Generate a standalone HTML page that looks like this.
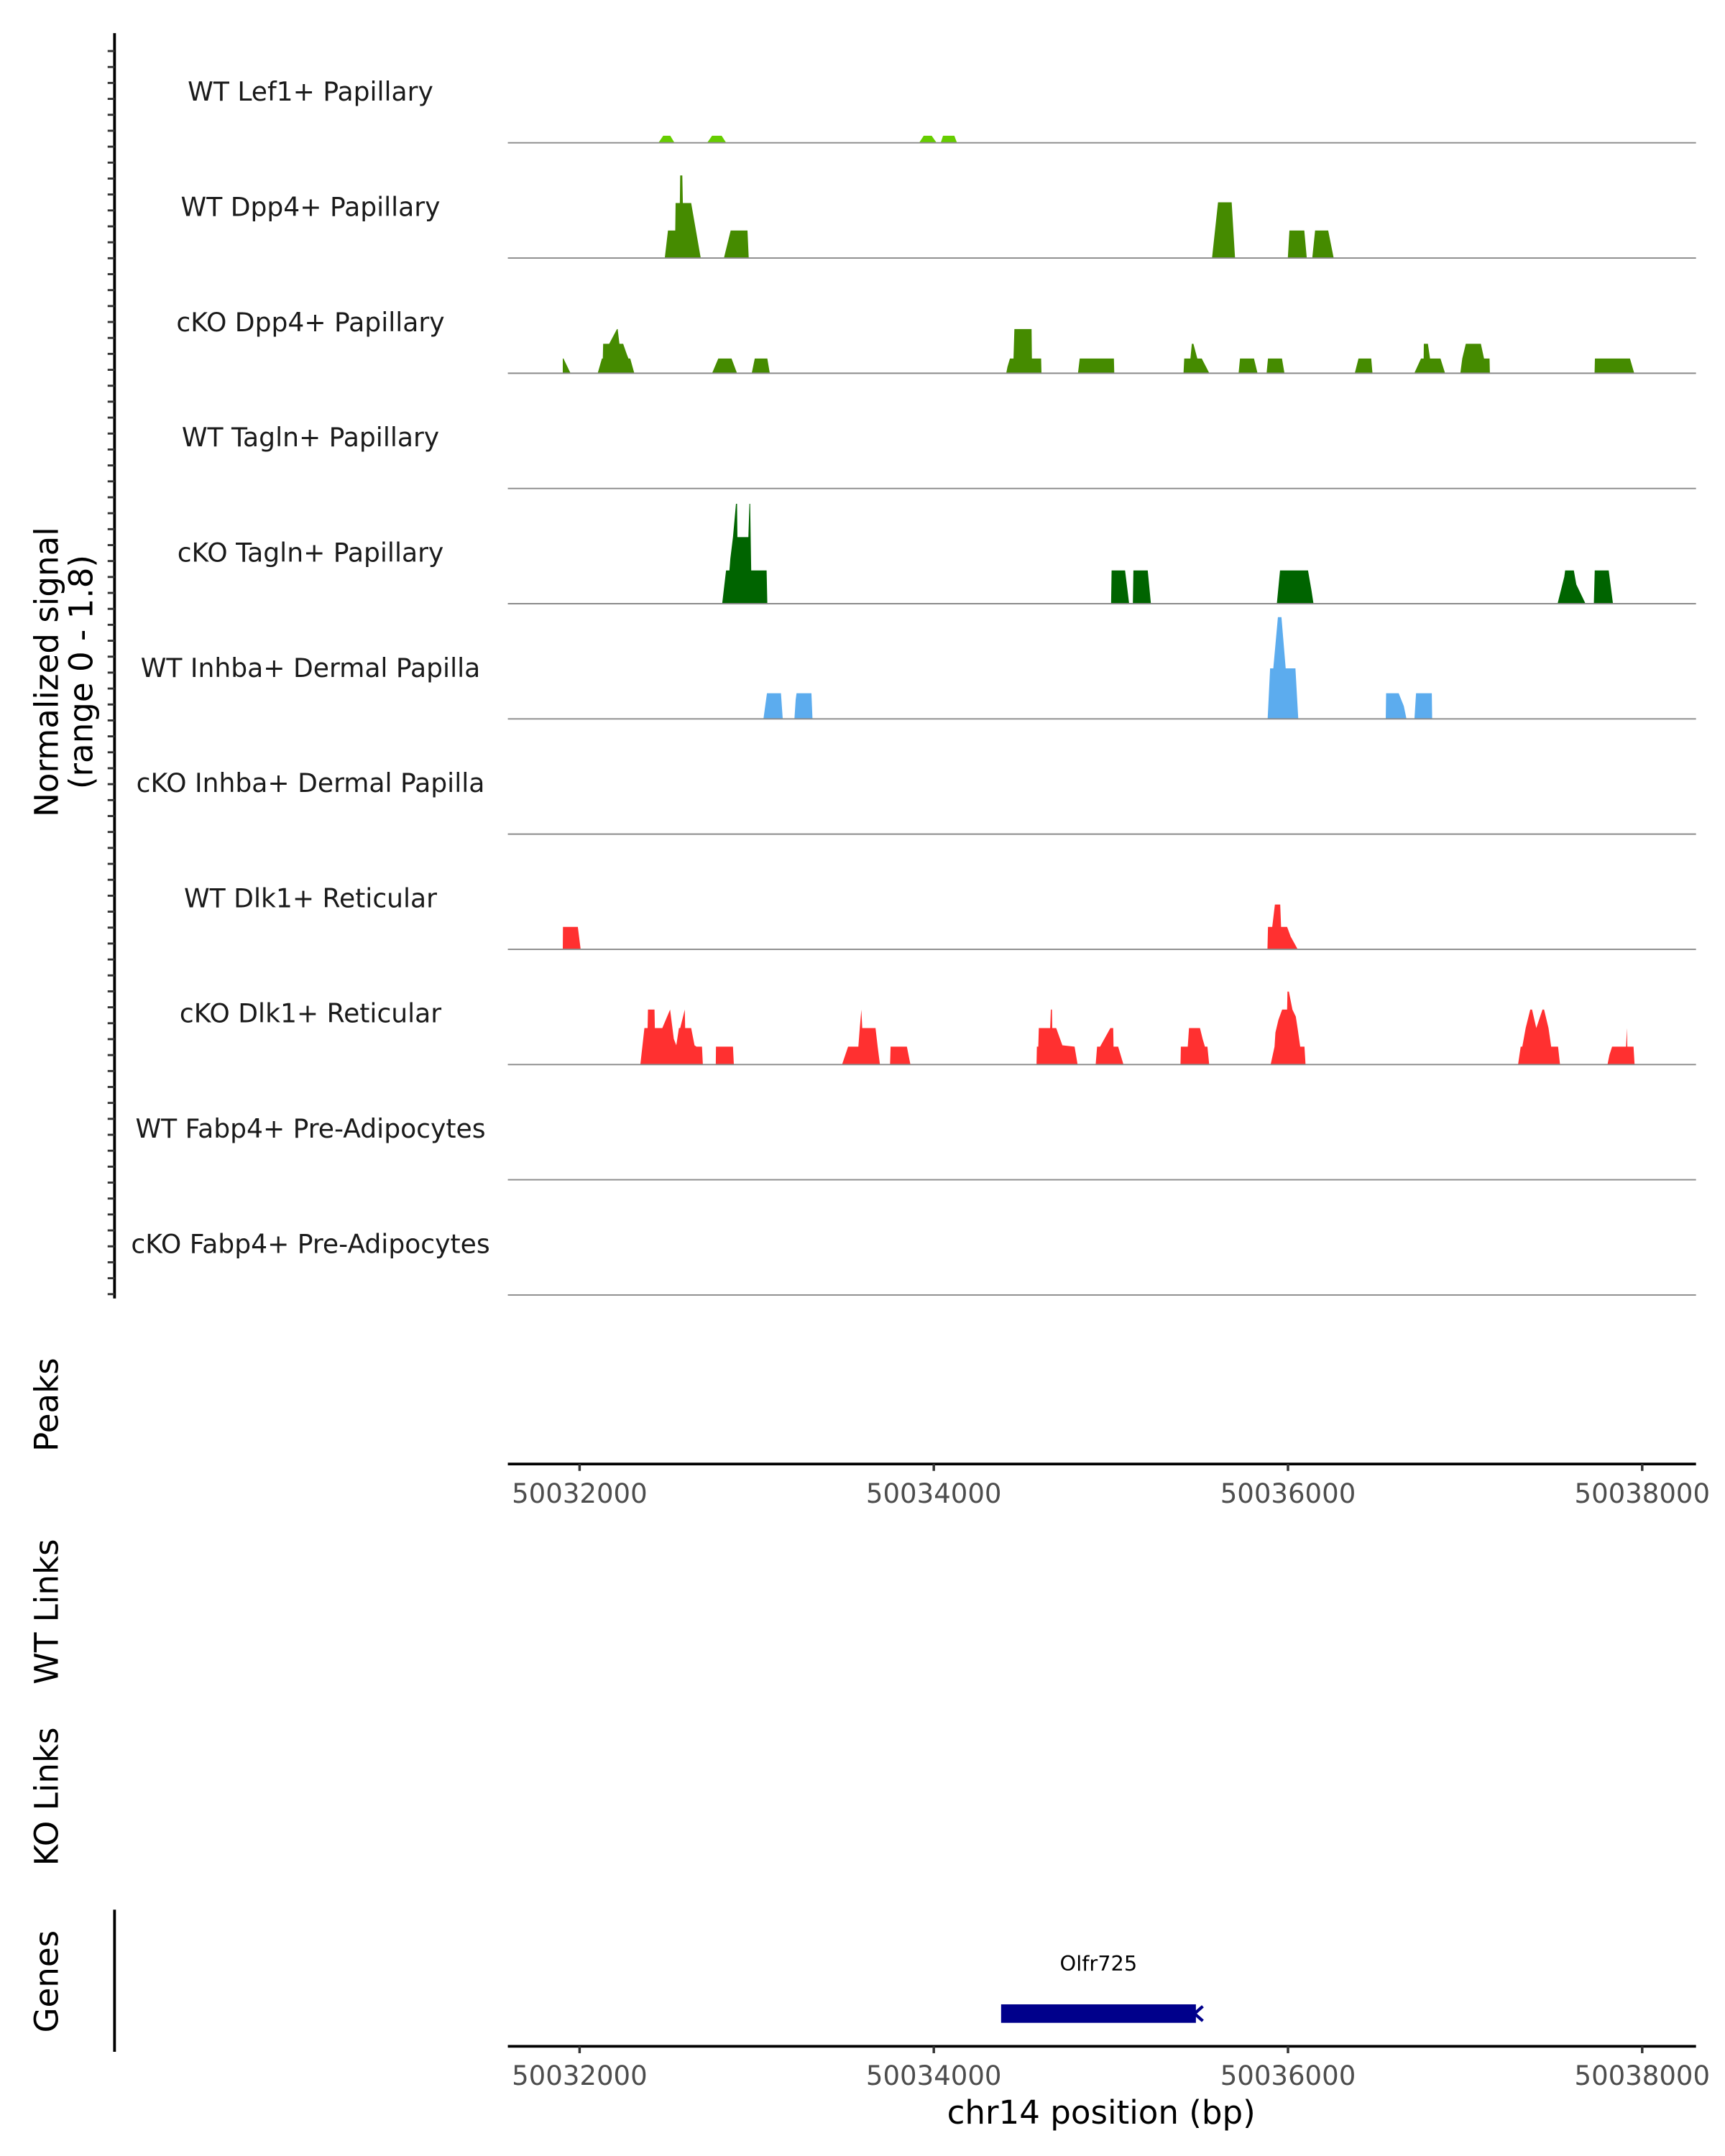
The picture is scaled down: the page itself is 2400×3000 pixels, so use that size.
<!DOCTYPE html>
<html><head><meta charset="utf-8"><title>Coverage plot</title>
<style>html,body{margin:0;padding:0;background:#fff}svg{display:block}text{font-family:"DejaVu Sans","Liberation Sans",sans-serif}</style>
</head><body>
<svg id="chart" xmlns="http://www.w3.org/2000/svg" width="2400" height="3000" viewBox="0 0 1250 1562.5">
<rect x="0" y="0" width="1250" height="1562.5" fill="#fff"/>
<g id="tracks"></g>
<g id="axes"></g>
</svg>
<script>
// region / axis data
const regionStart = 50032000;
const xTicks = [50032000, 50034000, 50036000, 50038000];
const yRangeMax = 1.8;
// track names and colours
const trackNames = ["WT Lef1+ Papillary","WT Dpp4+ Papillary","cKO Dpp4+ Papillary","WT Tagln+ Papillary","cKO Tagln+ Papillary","WT Inhba+ Dermal Papilla","cKO Inhba+ Dermal Papilla","WT Dlk1+ Reticular","cKO Dlk1+ Reticular","WT Fabp4+ Pre-Adipocytes","cKO Fabp4+ Pre-Adipocytes"];
const trackColors = ["#66CD00","#458B00","#458B00","#006400","#006400","#5CACEE","#5CACEE","#FF3030","#FF3030","#FF3030","#FF3030"];
// signal vertices [offset bp from regionStart, normalized value]
const sigWTLef1 = [[445,0],[472,.11],[512,.11],[536,0],[720,0],[748,.11],[802,.11],[828,0],[1917,0],[1943,.11],[1988,.11],[2016,0],[2039,0],[2052,.11],[2116,.11],[2131,0]];
const sigWTDpp4 = [[481,0],[499,.43],[540,.43],[542,.86],[566,.86],[568,1.29],[580,1.29],[583,.86],[630,.86],[657,.43],[684,0],
 [815,0],[853,.43],[948,.43],[955,0],
 [3571,0],[3605,.87],[3682,.87],[3701,0],
 [3999,0],[4008,.43],[4092,.43],[4106,0],
 [4137,0],[4153,.43],[4227,.43],[4258,0]];
const sigKODpp4 = [[-95,0],[-95,.23],[-91,.23],[-51,0],
 [102,0],[126,.23],[131,.23],[133,.46],[167,.46],[211,.69],[215,.69],[225,.46],[246,.46],[266,.3],[276,.23],[286,.23],[309,0],
 [748,0],[783,.23],[858,.23],[889,0],[972,0],[989,.23],[1060,.23],[1074,0],
 [2409,0],[2416,.1],[2430,.23],[2450,.23],[2455,.69],[2552,.69],[2554,.23],[2606,.23],[2608,0],
 [2814,0],[2824,.23],[3017,.23],[3019,0],
 [3410,0],[3414,.23],[3449,.23],[3457,.46],[3466,.46],[3488,.23],[3513,.23],[3556,0],
 [3721,0],[3729,.23],[3808,.23],[3828,0],[3879,0],[3887,.23],[3966,.23],[3980,0],
 [4377,0],[4398,.23],[4470,.23],[4477,0],
 [4713,0],[4751,.23],[4766,.23],[4767,.46],[4790,.46],[4802,.23],[4861,.23],[4887,0],
 [4973,0],[4984,.23],[5004,.46],[5089,.46],[5107,.23],[5138,.23],[5140,0],
 [5731,0],[5733,.23],[5931,.23],[5955,0]];
const sigWTTagln = [];
const sigKOTagln = [[805,0],[827,.52],[846,.52],[851,.7],[866,1.04],[883,1.56],[889,1.56],[891,1.04],[953,1.04],[959,1.56],[963,1.56],[969,.52],[1056,.52],[1060,0],
 [3001,0],[3004,.52],[3080,.52],[3103,0],[3124,0],[3127,.52],[3208,.52],[3226,0],
 [3937,0],[3955,.52],[4113,.52],[4133,.2],[4144,0],
 [5522,0],[5560,.42],[5565,.52],[5614,.52],[5628,.3],[5680,0],[5727,0],[5732,.52],[5811,.52],[5835,0]];
const sigWTInhba = [[1038,0],[1058,.4],[1137,.4],[1147,0],[1213,0],[1220,.3],[1225,.4],[1309,.4],[1315,0],
 [3885,0],[3899,.79],[3917,.79],[3943,1.59],[3963,1.59],[3987,.79],[4042,.79],[4058,0],
 [4552,0],[4554,.4],[4625,.4],[4654,.2],[4669,0],[4714,0],[4723,.4],[4812,.4],[4814,0]];
const sigKOInhba = [];
const sigWTDlk1 = [[-95,0],[-94,.35],[-10,.35],[6,0],[3884,0],[3887,.35],[3911,.35],[3926,.7],[3956,.7],[3961,.35],[3995,.35],[4015,.2],[4055,0]];
const sigKODlk1 = [[343,0],[366,.57],[384,.57],[386,.86],[423,.86],[425,.57],[467,.57],[511,.86],[532,.4],[546,.3],[561,.57],[568,.57],[594,.86],[596,.57],[630,.57],[649,.3],[660,.28],[691,.28],[696,0],
 [769,0],[770,.28],[866,.28],[871,0],
 [1482,0],[1516,.28],[1574,.28],[1582,.57],[1591,.86],[1596,.57],[1671,.57],[1683,.28],[1696,0],
 [1753,0],[1756,.28],[1848,.28],[1868,0],
 [2580,0],[2582,.28],[2590,.28],[2593,.57],[2657,.57],[2661,.86],[2667,.86],[2669,.57],[2691,.57],[2726,.3],[2795,.28],[2812,0],
 [2914,0],[2922,.28],[2939,.28],[2997,.57],[3013,.57],[3015,.28],[3041,.28],[3071,0],
 [3393,0],[3395,.28],[3434,.28],[3441,.57],[3503,.57],[3518,.4],[3531,.28],[3545,.28],[3555,0],
 [3902,0],[3924,.28],[3929,.5],[3946,.7],[3967,.86],[3995,.86],[3997,1.14],[4005,1.14],[4025,.86],[4044,.75],[4054,.57],[4069,.28],[4093,.28],[4099,0],
 [5299,0],[5314,.28],[5323,.28],[5342,.57],[5368,.86],[5378,.86],[5402,.57],[5437,.86],[5446,.86],[5471,.57],[5486,.28],[5525,.28],[5536,0],
 [5804,0],[5815,.15],[5830,.28],[5909,.28],[5914,.57],[5916,.28],[5951,.28],[5957,0]];
const sigWTFabp4 = [];
const sigKOFabp4 = [];
const trackSignals = [sigWTLef1,sigWTDpp4,sigKODpp4,sigWTTagln,sigKOTagln,sigWTInhba,sigKOInhba,sigWTDlk1,sigKODlk1,sigWTFabp4,sigKOFabp4];
// gene annotation
const geneName = "Olfr725";
const geneStart = 50034380;
const geneEnd = 50035480;

const NS = "http://www.w3.org/2000/svg";
const plotLeft = 368, plotRight = 1229;
const trackTop = 20, trackH = 83.5;
function xScale(bp){ return 420 + (bp - regionStart) * (1190 - 420) / 6000; }
function yScale(v, base){ return base - v / yRangeMax * 83.5; }
function mk(tag, attrs, parent){ const e = document.createElementNS(NS, tag); for (const k in attrs) e.setAttribute(k, attrs[k]); parent.appendChild(e); return e; }

const tracksG = document.getElementById('tracks');
const axesG = document.getElementById('axes');

trackNames.forEach((name, i) => {
  const base = trackTop + trackH * (i + 1);
  const g = mk('g', {}, tracksG);
  
  
  const lab = mk('text', {x: 225, y: base - 30.5, 'text-anchor': 'middle', 'font-size': 18.8, fill: '#1a1a1a'}, g);
  lab.textContent = name;
  
  
  const sig = trackSignals[i];
  if (sig.length) {
    let d = 'M' + xScale(regionStart + sig[0][0]).toFixed(2) + ',' + base;
    sig.forEach(p => { d += ' L' + xScale(regionStart + p[0]).toFixed(2) + ',' + yScale(p[1], base).toFixed(2); });
    d += ' L' + xScale(regionStart + sig[sig.length - 1][0]).toFixed(2) + ',' + base + ' Z';
    const area = mk('path', {d: d, fill: trackColors[i], stroke: 'none'}, g);
    
    
  }
  const bl = mk('line', {x1: plotLeft, x2: plotRight, y1: base, y2: base, stroke: '#8a8a8a', 'stroke-width': 1}, g);
  
  
});

// left y axis with ticks
const yAxis = mk('line', {x1: 83, x2: 83, y1: 24, y2: 941, stroke: '#000', 'stroke-width': 2}, axesG);


for (let t = 0; t < 80; t++) {
  const y = 37 + t * 11.55;
  if (y > 940) break;
  const tk = mk('line', {x1: 78, x2: 83, y1: y, y2: y, stroke: '#333', 'stroke-width': 1.5}, axesG);
  
  
}
function vtext(txt, x, y, size, name){
  const t = mk('text', {x: x, y: y, 'text-anchor': 'middle', 'font-size': size, fill: '#000', transform: 'rotate(-90 ' + x + ' ' + y + ')'}, axesG);
  t.textContent = txt;
  
  
  return t;
}
vtext('Normalized signal', 42, 487, 23.5, 'y-axis-title');
vtext('(range 0 - 1.8)', 67, 487, 23.5, 'y-axis-subtitle');
vtext('Peaks', 42, 1018, 23.5, 'peaks-label');
vtext('WT Links', 42, 1168, 23.5, 'wt-links-label');
vtext('KO Links', 42, 1302, 23.5, 'ko-links-label');
vtext('Genes', 42, 1436, 23.5, 'genes-label');

function xAxis(yLine, name){
  const l = mk('line', {x1: plotLeft, x2: plotRight, y1: yLine, y2: yLine, stroke: '#000', 'stroke-width': 2}, axesG);
  
  
  xTicks.forEach(v => {
    const x = xScale(v);
    const tk = mk('line', {x1: x, x2: x, y1: yLine, y2: yLine + 5, stroke: '#333', 'stroke-width': 1.8}, axesG);
    
    
    const tl = mk('text', {x: x, y: yLine + 28, 'text-anchor': 'middle', 'font-size': 19.3, fill: '#4d4d4d'}, axesG);
    tl.textContent = v;
    
    
  });
}
xAxis(1061, 'peaks-x-axis');
xAxis(1483, 'genes-x-axis');

const gl = mk('line', {x1: 83, x2: 83, y1: 1384, y2: 1487, stroke: '#000', 'stroke-width': 2}, axesG);



const gx1 = xScale(geneStart), gx2 = xScale(geneEnd);
const gbar = mk('rect', {x: gx1, y: 1452.6, width: gx2 - gx1, height: 13.4, fill: '#00008B'}, axesG);


const garr = mk('path', {d: 'M' + (gx2 + 5) + ',1454 L' + (gx2 - 1) + ',1459.3 L' + (gx2 + 5) + ',1464.6', fill: 'none', stroke: '#00008B', 'stroke-width': 2.2}, axesG);


const gt = mk('text', {x: (gx1 + gx2) / 2, y: 1428, 'text-anchor': 'middle', 'font-size': 15, fill: '#000'}, axesG);
gt.textContent = geneName;



const xt = mk('text', {x: 798, y: 1539, 'text-anchor': 'middle', 'font-size': 23.5, fill: '#000'}, axesG);
xt.textContent = 'chr14 position (bp)';


</script>
</body></html>
